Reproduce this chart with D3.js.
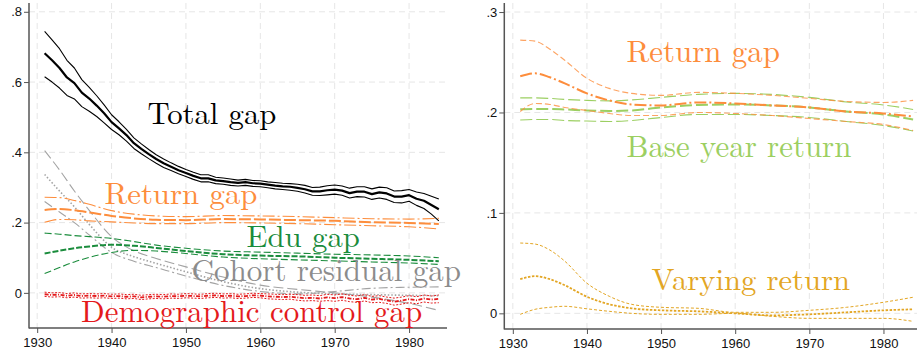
<!DOCTYPE html>
<html>
<head>
<meta charset="utf-8">
<script src="https://cdn.jsdelivr.net/npm/d3@7"></script>
<style>
  body { margin: 0; background: #fff; }
  .tick-label { font-family: "Liberation Sans", Arial, sans-serif; font-size: 13px; fill: #111; }
  .grid-line { stroke: #e6e6e6; stroke-dasharray: 6 4; stroke-width: 1; }
</style>
</head>
<body>
<div id="chart-area"></div>
<script>
// 1. Data

const years = d3.range(1931, 1985)
const smoothYears = [1931, 1933, 1935, 1937, 1940, 1943, 1946, 1950, 1955, 1960, 1965, 1970, 1975, 1980, 1984]

const xTicks = [1930, 1940, 1950, 1960, 1970, 1980]
const leftYTicks = [0, 0.2, 0.4, 0.6, 0.8]
const rightYTicks = [0, 0.1, 0.2, 0.3]

// total gap (annual)
const totalMid = [0.682, 0.662, 0.640, 0.613, 0.597, 0.570, 0.553, 0.533, 0.511, 0.486,
  0.468, 0.449, 0.426, 0.410, 0.395, 0.381, 0.369, 0.359, 0.349, 0.341,
  0.333, 0.326, 0.326, 0.320, 0.318, 0.315, 0.313, 0.315, 0.312, 0.311,
  0.308, 0.305, 0.303, 0.302, 0.299, 0.295, 0.289, 0.289, 0.292, 0.294,
  0.291, 0.284, 0.288, 0.288, 0.281, 0.286, 0.283, 0.274, 0.274, 0.278,
  0.268, 0.262, 0.250, 0.238]
const totalHi = [0.744, 0.720, 0.695, 0.662, 0.640, 0.607, 0.585, 0.561, 0.535, 0.507,
  0.487, 0.465, 0.441, 0.424, 0.408, 0.393, 0.381, 0.370, 0.360, 0.351,
  0.343, 0.336, 0.336, 0.329, 0.327, 0.324, 0.321, 0.323, 0.320, 0.319,
  0.316, 0.314, 0.312, 0.311, 0.309, 0.306, 0.300, 0.301, 0.305, 0.307,
  0.304, 0.298, 0.302, 0.302, 0.296, 0.301, 0.299, 0.290, 0.291, 0.294,
  0.287, 0.283, 0.275, 0.267]
const totalLo = [0.615, 0.600, 0.583, 0.562, 0.552, 0.530, 0.517, 0.502, 0.484, 0.465,
  0.450, 0.432, 0.411, 0.396, 0.382, 0.369, 0.357, 0.348, 0.339, 0.331,
  0.323, 0.316, 0.316, 0.311, 0.309, 0.306, 0.304, 0.306, 0.303, 0.302,
  0.299, 0.296, 0.294, 0.292, 0.289, 0.284, 0.278, 0.277, 0.279, 0.281,
  0.278, 0.270, 0.274, 0.273, 0.266, 0.270, 0.266, 0.257, 0.256, 0.261,
  0.249, 0.240, 0.224, 0.205]

// demographic control gap (annual)
const demoMid = [-0.004, -0.006, -0.005, -0.008, -0.006, -0.009, -0.008, -0.009, -0.008, -0.010,
  -0.009, -0.011, -0.010, -0.013, -0.011, -0.010, -0.011, -0.009, -0.010, -0.008,
  -0.009, -0.010, -0.008, -0.007, -0.009, -0.008, -0.010, -0.009, -0.007, -0.008,
  -0.010, -0.011, -0.012, -0.011, -0.013, -0.015, -0.014, -0.016, -0.013, -0.015,
  -0.012, -0.016, -0.018, -0.014, -0.019, -0.017, -0.021, -0.025, -0.022, -0.018,
  -0.021, -0.016, -0.019, -0.017]
const demoHi = [0.002, 0.000, 0.001, -0.002, 0.000, -0.003, -0.002, -0.003, -0.002, -0.004,
  -0.003, -0.005, -0.004, -0.007, -0.005, -0.004, -0.005, -0.003, -0.004, -0.002,
  -0.003, -0.004, -0.002, -0.001, -0.003, -0.002, -0.004, -0.003, -0.001, -0.002,
  -0.003, -0.004, -0.005, -0.004, -0.005, -0.007, -0.006, -0.008, -0.004, -0.006,
  -0.003, -0.007, -0.009, -0.005, -0.010, -0.008, -0.012, -0.015, -0.012, -0.008,
  -0.011, -0.006, -0.009, -0.006]
const demoLo = [-0.010, -0.012, -0.011, -0.014, -0.012, -0.015, -0.014, -0.015, -0.014, -0.016,
  -0.015, -0.017, -0.016, -0.019, -0.017, -0.016, -0.017, -0.015, -0.016, -0.014,
  -0.015, -0.016, -0.014, -0.013, -0.015, -0.014, -0.016, -0.015, -0.013, -0.014,
  -0.017, -0.018, -0.019, -0.018, -0.021, -0.023, -0.022, -0.024, -0.022, -0.024,
  -0.021, -0.025, -0.027, -0.023, -0.028, -0.027, -0.030, -0.035, -0.032, -0.028,
  -0.031, -0.026, -0.029, -0.028]

// smooth series (smoothYears)
const returnMid = [0.236, 0.239, 0.235, 0.229, 0.219, 0.212, 0.208, 0.207, 0.210, 0.209, 0.207, 0.205, 0.201, 0.199, 0.196]
const returnHi = [0.272, 0.271, 0.263, 0.252, 0.234, 0.224, 0.219, 0.217, 0.220, 0.219, 0.217, 0.214, 0.211, 0.210, 0.212]
const returnLo = [0.201, 0.209, 0.208, 0.205, 0.202, 0.199, 0.197, 0.197, 0.200, 0.199, 0.197, 0.194, 0.191, 0.188, 0.182]

const eduMid = [0.112, 0.120, 0.127, 0.132, 0.137, 0.134, 0.128, 0.119, 0.110, 0.106, 0.104, 0.100, 0.097, 0.094, 0.090]
const eduHi = [0.170, 0.167, 0.163, 0.160, 0.155, 0.146, 0.136, 0.127, 0.119, 0.116, 0.113, 0.110, 0.108, 0.105, 0.100]
const eduLo = [0.055, 0.072, 0.088, 0.101, 0.115, 0.121, 0.119, 0.112, 0.102, 0.097, 0.094, 0.091, 0.088, 0.085, 0.081]

const cohortA = [0.405, 0.350, 0.290, 0.235, 0.160, 0.120, 0.098, 0.074, 0.045, 0.022, 0.010, 0.000, -0.012, -0.030, -0.050]
const cohortMid = [0.337, 0.290, 0.245, 0.195, 0.130, 0.103, 0.084, 0.060, 0.032, 0.012, 0.002, -0.003, -0.005, -0.007, -0.008]
const cohortB = [0.260, 0.230, 0.200, 0.165, 0.115, 0.090, 0.072, 0.048, 0.021, 0.004, -0.003, 0.004, 0.013, 0.016, 0.017]

const baseMid = [0.2032, 0.2035, 0.2035, 0.2030, 0.2020, 0.2015, 0.2020, 0.2050, 0.2075, 0.2080, 0.2070, 0.2050, 0.2010, 0.1980, 0.1930]
const baseHi = [0.2145, 0.2145, 0.2140, 0.2130, 0.2120, 0.2115, 0.2125, 0.2150, 0.2180, 0.2190, 0.2180, 0.2150, 0.2105, 0.2075, 0.2030]
const baseLo = [0.1925, 0.1930, 0.1930, 0.1920, 0.1915, 0.1910, 0.1920, 0.1950, 0.1980, 0.1980, 0.1970, 0.1950, 0.1910, 0.1870, 0.1815]

const varyMid = [0.034, 0.037, 0.034, 0.028, 0.0165, 0.009, 0.005, 0.003, 0.002, 0.000, -0.002, -0.001, 0.001, 0.003, 0.004]
const varyHi = [0.070, 0.069, 0.063, 0.052, 0.030, 0.017, 0.009, 0.006, 0.005, 0.001, 0.001, 0.003, 0.006, 0.011, 0.016]
const varyLo = [-0.001, 0.004, 0.006, 0.007, 0.0045, 0.002, 0.000, -0.001, -0.001, 0.000, -0.003, -0.005, -0.005, -0.005, -0.008]

const colors = {
  total: "#000000",
  ret: "#fd8d3c",
  edu: "#1a8c3c",
  cohort: "#a3a3a3",
  cohortText: "#8c8c8c",
  demo: "#e41a1c",
  base: "#9ccf62",
  vary: "#e3a624",
}

// 2. Dimensions

const dimensions = {
  width: 917,
  height: 354,
  left: { x0: 29, x1: 447, y0: 3, y1: 328 },
  right: { x0: 504.3, x1: 922, y0: 3, y1: 329 },
}

// 3. Canvas

const wrapper = d3.select("#chart-area")
  .append("svg")
    .attr("width", dimensions.width)
    .attr("height", dimensions.height)
    .style("display", "block")

wrapper.append("rect")
  .attr("width", dimensions.width)
  .attr("height", dimensions.height)
  .attr("fill", "#fff")

// 4. Scales

const xLeft = d3.scaleLinear().domain([1928.9, 1985.1]).range([dimensions.left.x0, dimensions.left.x1])
const yLeft = d3.scaleLinear().domain([-0.1, 0.825]).range([dimensions.left.y1, dimensions.left.y0])

const xRight = d3.scaleLinear().domain([1928.85, 1985.2]).range([dimensions.right.x0, dimensions.right.x1])
const yRight = d3.scaleLinear().domain([-0.0156, 0.309]).range([dimensions.right.y1, dimensions.right.y0])

const tickFormat = d => d === 0 ? "0" : d3.format(".1f")(d).replace("0.", ".")

// 5. Peripherals

function drawFrame(box, x, y, yTicks) {
  const g = wrapper.append("g")

  // grid
  yTicks.forEach(t => {
    g.append("line")
      .attr("class", "grid-line")
      .attr("x1", box.x0).attr("x2", box.x1)
      .attr("y1", y(t)).attr("y2", y(t))
  })
  xTicks.forEach(t => {
    g.append("line")
      .attr("class", "grid-line")
      .attr("x1", x(t)).attr("x2", x(t))
      .attr("y1", box.y0).attr("y2", box.y1)
  })

  const yAxis = d3.axisLeft(y).tickValues(yTicks).tickFormat(tickFormat).tickSize(5).tickPadding(2)
  const xAxis = d3.axisBottom(x).tickValues(xTicks).tickFormat(d3.format("d")).tickSize(5).tickPadding(5)

  const ya = g.append("g").attr("transform", `translate(${box.x0},0)`).call(yAxis)
  const xa = g.append("g").attr("transform", `translate(0,${box.y1})`).call(xAxis)

  ;[ya, xa].forEach(a => {
    a.select(".domain").remove()
    a.selectAll(".tick line").attr("stroke", "#555").attr("stroke-width", 1)
    a.selectAll(".tick text").attr("class", "tick-label").attr("fill", null)
  })

  g.append("line")
    .attr("x1", box.x0).attr("x2", box.x0)
    .attr("y1", box.y0).attr("y2", box.y1 + 0.5)
    .attr("stroke", "#555").attr("stroke-width", 1.5)
  g.append("line")
    .attr("x1", box.x0).attr("x2", box.x1)
    .attr("y1", box.y1).attr("y2", box.y1)
    .attr("stroke", "#555").attr("stroke-width", 1.5)
}

drawFrame(dimensions.left, xLeft, yLeft, leftYTicks)
drawFrame(dimensions.right, xRight, yRight, rightYTicks)

// 6. Data

function drawSeries(x, y, xs, ys, style) {
  const line = d3.line()
    .x((d, i) => x(xs[i]))
    .y(d => y(d))
    .curve(style.curve || d3.curveLinear)
  wrapper.append("path")
    .attr("d", line(ys))
    .attr("fill", "none")
    .attr("stroke", style.color)
    .attr("stroke-width", style.width)
    .attr("stroke-dasharray", style.dash || null)
    .attr("stroke-opacity", style.opacity || 1)
    .attr("stroke-linejoin", "round")
}

const smooth = d3.curveMonotoneX

// left panel
drawSeries(xLeft, yLeft, smoothYears, cohortA, { color: colors.cohort, width: 1.1, dash: "10 4", curve: smooth })
drawSeries(xLeft, yLeft, smoothYears, cohortMid, { color: colors.cohort, width: 1.6, dash: "1.5 2", curve: smooth })
drawSeries(xLeft, yLeft, smoothYears, cohortB, { color: colors.cohort, width: 1.1, dash: "9 3 2 3", curve: smooth })

drawSeries(xLeft, yLeft, smoothYears, eduHi, { color: colors.edu, width: 1.1, dash: "7 3", curve: smooth })
drawSeries(xLeft, yLeft, smoothYears, eduMid, { color: colors.edu, width: 2, dash: "6 2", curve: smooth })
drawSeries(xLeft, yLeft, smoothYears, eduLo, { color: colors.edu, width: 1.1, dash: "7 3", curve: smooth })

drawSeries(xLeft, yLeft, smoothYears, returnHi, { color: colors.ret, width: 1.1, dash: "12 3 2 3", curve: smooth })
drawSeries(xLeft, yLeft, smoothYears, returnMid, { color: colors.ret, width: 2, dash: "12 3", curve: smooth })
drawSeries(xLeft, yLeft, smoothYears, returnLo, { color: colors.ret, width: 1.1, dash: "12 3 2 3", curve: smooth })

drawSeries(xLeft, yLeft, years, demoHi, { color: colors.demo, width: 1, dash: "2 1.5" })
drawSeries(xLeft, yLeft, years, demoMid, { color: colors.demo, width: 1.8, dash: "4 1.5 1 1.5" })
drawSeries(xLeft, yLeft, years, demoLo, { color: colors.demo, width: 1, dash: "2 1.5" })

drawSeries(xLeft, yLeft, years, totalHi, { color: colors.total, width: 1.1 })
drawSeries(xLeft, yLeft, years, totalMid, { color: colors.total, width: 2.2 })
drawSeries(xLeft, yLeft, years, totalLo, { color: colors.total, width: 1.1 })

// right panel
drawSeries(xRight, yRight, smoothYears, baseHi, { color: colors.base, width: 1.1, dash: "12 4", curve: smooth })
drawSeries(xRight, yRight, smoothYears, baseMid, { color: colors.base, width: 2, dash: "12 4", curve: smooth })
drawSeries(xRight, yRight, smoothYears, baseLo, { color: colors.base, width: 1.1, dash: "12 4", curve: smooth })

drawSeries(xRight, yRight, smoothYears, returnHi, { color: colors.ret, width: 1.1, dash: "6 3", curve: smooth, opacity: 0.8 })
drawSeries(xRight, yRight, smoothYears, returnMid, { color: colors.ret, width: 2, dash: "12 3 2 3", curve: smooth })
drawSeries(xRight, yRight, smoothYears, returnLo, { color: colors.ret, width: 1.1, dash: "6 3", curve: smooth, opacity: 0.8 })

drawSeries(xRight, yRight, smoothYears, varyHi, { color: colors.vary, width: 1, dash: "3 2", curve: smooth })
drawSeries(xRight, yRight, smoothYears, varyMid, { color: colors.vary, width: 1.8, dash: "2.5 1.5", curve: smooth })
drawSeries(xRight, yRight, smoothYears, varyLo, { color: colors.vary, width: 1, dash: "3 2", curve: smooth })

// 7. Annotations (serif, sized to the width seen in the picture)

const notes = [
  { text: "Total gap", x0: 147.5, x1: 276.5, y: 124, color: colors.total },
  { text: "Return gap", x0: 104.5, x1: 257.5, y: 204, color: colors.ret },
  { text: "Edu gap", x0: 246.5, x1: 360, y: 246.5, color: colors.edu },
  { text: "Cohort residual gap", x0: 191.5, x1: 461, y: 281, color: colors.cohortText },
  { text: "Demographic control gap", x0: 81, x1: 422.5, y: 321.5, color: colors.demo },
  { text: "Return gap", x0: 626.5, x1: 780, y: 61.5, color: colors.ret },
  { text: "Base year return", x0: 626.5, x1: 851.5, y: 156.5, color: colors.base },
  { text: "Varying return", x0: 651.5, x1: 850, y: 290, color: colors.vary },
]

const baseSize = 30
notes.forEach(n => {
  const t = wrapper.append("text")
    .attr("x", n.x0)
    .attr("y", n.y)
    .attr("fill", n.color)
    .style("font-family", "'Latin Modern Roman', 'Liberation Serif', serif")
    .style("font-size", `${baseSize}px`)
    .text(n.text)
  const w = t.node().getComputedTextLength()
  if (w > 0) t.style("font-size", `${baseSize * (n.x1 - n.x0) / w}px`)
})
</script>
</body>
</html>
